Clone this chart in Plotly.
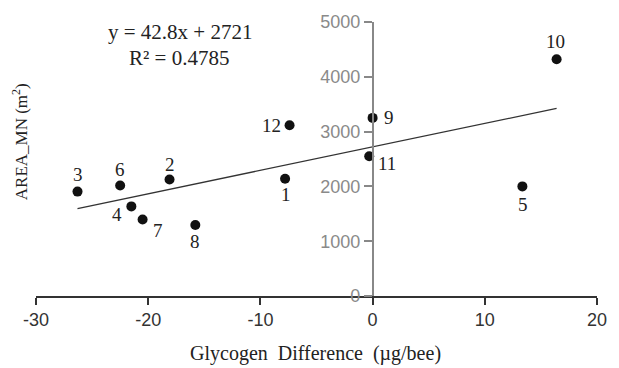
import plotly.graph_objects as go

ids = ["1", "2", "3", "4", "5", "6", "7", "8", "9", "10", "11", "12"]
glycogen_diff = [-7.8, -18.1, -26.3, -21.5, 13.35, -22.5, -20.5, -15.8, 0.0, 16.4, -0.3, -7.4]
area_mn = [2140, 2125, 1905, 1635, 2000, 2015, 1395, 1295, 3250, 4320, 2550, 3115]
slope = 42.8
intercept = 2721
r2 = 0.4785
x_ticks = [-30, -20, -10, 0, 10, 20]
x_ticklabels = ["-30", "-20", "-10", "0", "10", "20"]
y_ticks = [0, 1000, 2000, 3000, 4000, 5000]
y_ticklabels = ["0", "1000", "2000", "3000", "4000", "5000"]

# label offsets in pixels (style)
label_shift = {
    "1": (1, -16), "2": (0, 15), "3": (0, 17), "4": (-14, -8), "5": (1, -18),
    "6": (0, 16), "7": (15, -11), "8": (0, -16), "9": (16, 0), "10": (-1, 18),
    "11": (18, -7), "12": (-18, 0),
}

serif = "Liberation Serif"
sans = "Liberation Sans"

fig = go.Figure()

xmin, xmax = min(glycogen_diff), max(glycogen_diff)
fig.add_trace(go.Scatter(
    x=[xmin, xmax], y=[slope * xmin + intercept, slope * xmax + intercept],
    mode="lines", line=dict(color="#333333", width=1.3), hoverinfo="skip",
    showlegend=False))

fig.add_trace(go.Scatter(
    x=glycogen_diff, y=area_mn, mode="markers",
    marker=dict(color="#111111", size=10), showlegend=False, cliponaxis=False))

annotations = []
for i, x, y in zip(ids, glycogen_diff, area_mn):
    dx, dy = label_shift[i]
    annotations.append(dict(x=x, y=y, xref="x", yref="y", text=i, showarrow=False,
                            xshift=dx, yshift=dy, xanchor="center", yanchor="middle",
                            font=dict(family=serif, size=19, color="#222222")))

# equation text
annotations.append(dict(xref="paper", yref="paper", x=(183 - 36) / 571, y=(296 - 25) / 281,
                        xanchor="center", yanchor="middle",
                        text=f"y = {slope}x + {intercept}", showarrow=False,
                        font=dict(family=serif, size=21, color="#222222")))
annotations.append(dict(xref="paper", yref="paper", x=(182 - 36) / 571, y=(296 - 52) / 281,
                        xanchor="center", yanchor="middle",
                        text=f"R² = {r2}", showarrow=False,
                        font=dict(family=serif, size=21, color="#222222")))
# axis titles
annotations.append(dict(xref="paper", yref="paper", x=(320 - 36) / 571, y=-(355 - 296) / 281,
                        xanchor="center", yanchor="middle",
                        text="Glycogen\u00a0\u00a0Difference\u00a0\u00a0(µg/bee)", showarrow=False,
                        font=dict(family=serif, size=20, color="#222222")))
annotations.append(dict(xref="paper", yref="paper", x=-(36 - 20) / 571, y=(296 - 138) / 281,
                        xanchor="center", yanchor="middle",
                        text="AREA_MN (m<sup>2</sup>)", showarrow=False, textangle=-90,
                        font=dict(family=serif, size=17, color="#222222")))

fig.update_layout(
    width=619, height=368,
    margin=dict(l=36, r=12, t=15, b=72),
    paper_bgcolor="white", plot_bgcolor="white",
    annotations=annotations,
    xaxis=dict(range=[-30, 20], tickvals=x_ticks, ticktext=x_ticklabels,
               showgrid=False, zeroline=False,
               showline=True, linecolor="#333333", linewidth=1.5,
               ticks="outside", ticklen=7, tickcolor="#333333", tickwidth=1.5,
               tickfont=dict(family=sans, size=18, color="#333333"),
               anchor="y"),
    yaxis=dict(range=[0, 5000], tickvals=y_ticks, ticktext=y_ticklabels,
               showgrid=False, zeroline=False,
               showline=True, linecolor="#888888", linewidth=1.5,
               ticks="outside", ticklen=8, tickcolor="#888888", tickwidth=1.5,
               tickfont=dict(family=sans, size=18, color="#8a8a8a"),
               anchor="free", position=0.6),
)

fig.write_html("out.html")
